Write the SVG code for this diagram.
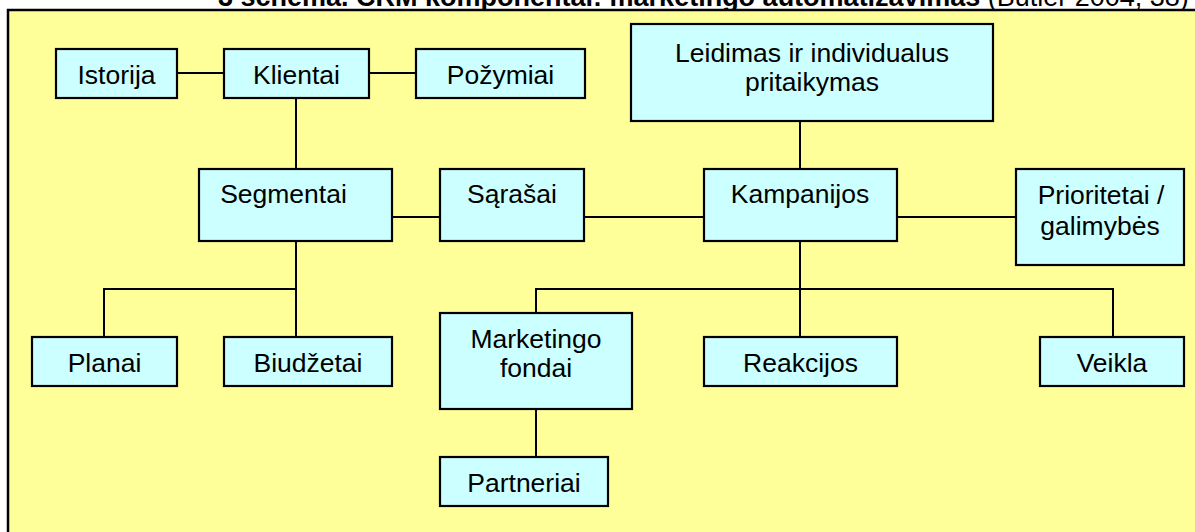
<svg xmlns="http://www.w3.org/2000/svg" width="1195" height="532" viewBox="0 0 1195 532">
  <style>
    .box { fill: #CCFFFF; stroke: #000; stroke-width: 2.2; }
    .lbl { font-family: "Liberation Sans", Arial, sans-serif; font-size: 26.5px; fill: #000; text-anchor: middle; }
    .link { stroke: #000; stroke-width: 2; fill: none; }
    .hdr { font-family: "Liberation Sans", Arial, sans-serif; font-size: 27px; fill: #000; }
  </style>

  <rect x="0" y="0" width="1195" height="532" fill="#FFFFFF"/>

  <!-- caption, partly outside the visible area -->
  <text class="hdr" x="218" y="5.5"><tspan font-weight="bold">3 schema. CRM komponentai: marketingo automatizavimas</tspan> (Butler 2004, 38)</text>

  <!-- background panel -->
  <rect x="8" y="10" width="1200" height="540" fill="#FFFF99" stroke="#000" stroke-width="2.5"/>

  <g id="connectors">
    <line class="link" x1="177" y1="73" x2="224" y2="73"/>
    <line class="link" x1="369" y1="73" x2="416" y2="73"/>
    <line class="link" x1="296" y1="98" x2="296" y2="169"/>
    <line class="link" x1="800" y1="121" x2="800" y2="169"/>
    <line class="link" x1="392" y1="217" x2="440" y2="217"/>
    <line class="link" x1="584" y1="217" x2="704" y2="217"/>
    <line class="link" x1="897" y1="217" x2="1016" y2="217"/>
    <line class="link" x1="296" y1="241" x2="296" y2="337"/>
    <polyline class="link" points="104,337 104,289 296,289"/>
    <line class="link" x1="800" y1="241" x2="800" y2="337"/>
    <polyline class="link" points="536,313 536,289 1113,289 1113,337"/>
    <line class="link" x1="536" y1="409" x2="536" y2="457"/>
  </g>

  <g id="istorija">
    <rect class="box" x="56" y="49" width="121" height="49"/>
    <text class="lbl" x="116.5" y="84.3">Istorija</text>
  </g>
  <g id="klientai">
    <rect class="box" x="224" y="49" width="145" height="49"/>
    <text class="lbl" x="296.5" y="84.3">Klientai</text>
  </g>
  <g id="pozymiai">
    <rect class="box" x="416" y="49" width="169" height="49"/>
    <text class="lbl" x="500.5" y="84.3">Požymiai</text>
  </g>
  <g id="leidimas">
    <rect class="box" x="631" y="24" width="362" height="97"/>
    <text class="lbl" x="812" y="61.7">Leidimas ir individualus</text>
    <text class="lbl" x="812" y="90.7">pritaikymas</text>
  </g>
  <g id="segmentai">
    <rect class="box" x="199" y="169" width="193" height="72"/>
    <text class="lbl" x="283.5" y="203.3">Segmentai</text>
  </g>
  <g id="sarasai">
    <rect class="box" x="440" y="169" width="144" height="72"/>
    <text class="lbl" x="512" y="203.3">Sąrašai</text>
  </g>
  <g id="kampanijos">
    <rect class="box" x="704" y="169" width="193" height="72"/>
    <text class="lbl" x="800" y="203.3">Kampanijos</text>
  </g>
  <g id="prioritetai">
    <rect class="box" x="1016" y="169" width="168" height="96"/>
    <text class="lbl" x="1101" y="204">Prioritetai /</text>
    <text class="lbl" x="1100" y="235">galimybės</text>
  </g>
  <g id="planai">
    <rect class="box" x="32" y="337" width="145" height="49"/>
    <text class="lbl" x="104.5" y="372.3">Planai</text>
  </g>
  <g id="biudzetai">
    <rect class="box" x="224" y="337" width="168" height="49"/>
    <text class="lbl" x="308" y="372.3">Biudžetai</text>
  </g>
  <g id="marketingo-fondai">
    <rect class="box" x="440" y="313" width="192" height="96"/>
    <text class="lbl" x="536" y="348.3">Marketingo</text>
    <text class="lbl" x="536" y="377.3">fondai</text>
  </g>
  <g id="reakcijos">
    <rect class="box" x="704" y="337" width="193" height="49"/>
    <text class="lbl" x="800.5" y="372.3">Reakcijos</text>
  </g>
  <g id="veikla">
    <rect class="box" x="1040" y="337" width="144" height="49"/>
    <text class="lbl" x="1112" y="372.3">Veikla</text>
  </g>
  <g id="partneriai">
    <rect class="box" x="440" y="457" width="168" height="49"/>
    <text class="lbl" x="524" y="492.3">Partneriai</text>
  </g>
</svg>
